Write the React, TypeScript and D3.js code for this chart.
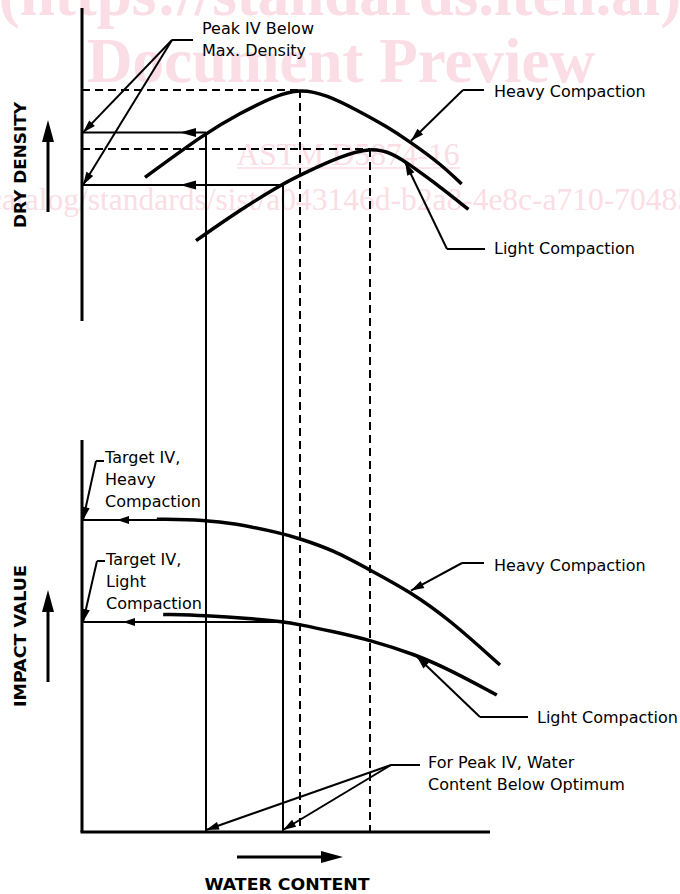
import React from "react";
import * as d3 from "d3";

const WIDTH = 680;
const HEIGHT = 894;

// ---- Data (relative units: water content on x, dry density / impact value on y) ----
const heavyDensityWater = [15.75, 31, 39.5, 47.75, 54.5, 61.2, 68.7, 76.2, 82, 89.5, 94.9];
const heavyDensity = [35.9, 47.1, 51.9, 56.1, 58.1, 56.5, 52.75, 48.6, 44.8, 39.4, 34.25];

const lightDensityWater = [28.5, 39.5, 49.9, 56.2, 64.5, 72, 77.8, 82, 89.5, 96.6];
const lightDensity = [20.1, 27.75, 34.2, 37.3, 41.1, 43.4, 41.9, 39, 33.6, 27.9];

const heavyIVWater = [18.7, 31, 37.8, 49.9, 54.25, 62.8, 72, 82, 92, 104.5];
const heavyIV = [78.2, 78, 77.2, 74.7, 73.4, 70.5, 65.5, 60.1, 53, 41.75];

const lightIVWater = [20.3, 31, 42, 49.9, 54.25, 62.8, 72, 83.7, 92, 103.7];
const lightIV = [54.4, 54.1, 53.4, 52.6, 51.9, 50.1, 48, 44.25, 40.5, 34.25];

const compactions = ["Heavy Compaction", "Light Compaction"];
const optimumWater = [54.5, 72];
const maxDensity = [57.75, 43];
const peakIVWater = [31, 50.25];
const densityAtPeakIV = [47.1, 34];
const targetIV = [78, 52.5];

const xDomain = [0, 102];
const densityDomain = [0, 78.25];
const ivDomain = [0, 98];

const watermarkLines = [
  "(https://standards.iteh.ai)",
  "Document Preview",
  "ASTM D5874-16",
  "catalog/standards/sist/a043146d-b2a8-4e8c-a710-704853e5f7e1/astm-d5874-16",
];

// ---- helpers ----
function head(tx: number, ty: number, fx: number, fy: number, len = 13, hw = 4) {
  const dx = tx - fx;
  const dy = ty - fy;
  const L = Math.hypot(dx, dy);
  const ux = dx / L;
  const uy = dy / L;
  const bx = tx - ux * len;
  const by = ty - uy * len;
  return `M${tx},${ty}L${bx - uy * hw},${by + ux * hw}L${bx + uy * hw},${by - ux * hw}Z`;
}

const FONT = "'DejaVu Sans', Verdana, sans-serif";
const SERIF = "'Liberation Serif', 'Times New Roman', serif";
const WM = "#fadde5";

export default function App() {
  const x = d3.scaleLinear().domain(xDomain).range([82, 490]);
  const yD = d3.scaleLinear().domain(densityDomain).range([321, 8]);
  const yI = d3.scaleLinear().domain(ivDomain).range([832, 440]);

  const curve = d3.curveBasis;
  const lineD = d3
    .line<[number, number]>()
    .x((d) => x(d[0]))
    .y((d) => yD(d[1]))
    .curve(curve);
  const lineI = d3
    .line<[number, number]>()
    .x((d) => x(d[0]))
    .y((d) => yI(d[1]))
    .curve(curve);

  const zip = (a: number[], b: number[]) => a.map((v, i) => [v, b[i]] as [number, number]);
  const densityCurves = [zip(heavyDensityWater, heavyDensity), zip(lightDensityWater, lightDensity)];
  const ivCurves = [zip(heavyIVWater, heavyIV), zip(lightIVWater, lightIV)];

  const x0 = x(0);
  const yBottom = yI(0);

  const upperHeadX = [180, 180];
  const lowerHeadX = [117, 123];

  const leaders: { elbow: [number, number]; end: number; tips: [number, number][] }[] = [
    {
      elbow: [172, 40],
      end: 193,
      tips: densityAtPeakIV.map((v) => [x0 + 1, yD(v)] as [number, number]),
    },
    { elbow: [463, 90], end: 484, tips: [[x(heavyDensityWater[8]) + 1, yD(heavyDensity[8]) - 1]] },
    { elbow: [447, 249], end: 485, tips: [[x(lightDensityWater[6]) + 12, yD(40.2) + 2]] },
    { elbow: [462, 563], end: 484, tips: [[x(heavyIVWater[7]) + 1, yI(heavyIV[7]) - 1]] },
    { elbow: [480, 717], end: 528, tips: [[x(lightIVWater[7]), yI(lightIV[7]) + 1.5]] },
    { elbow: [96, 461], end: 104, tips: [[x0 + 1, yI(targetIV[0])]] },
    { elbow: [97, 561], end: 105, tips: [[x0 + 1, yI(targetIV[1])]] },
    {
      elbow: [391, 765],
      end: 420,
      tips: peakIVWater.map((w) => [x(w), yBottom - 2] as [number, number]),
    },
  ];

  const labels: { x: number; y: number; lines: string[] }[] = [
    { x: 202, y: 34, lines: ["Peak IV Below", "Max. Density"] },
    { x: 494, y: 97, lines: [compactions[0]] },
    { x: 494, y: 254, lines: [compactions[1]] },
    { x: 494, y: 571, lines: [compactions[0]] },
    { x: 537, y: 723, lines: [compactions[1]] },
    { x: 105, y: 463, lines: ["Target IV,", "Heavy", "Compaction"] },
    { x: 106, y: 565, lines: ["Target IV,", "Light", "Compaction"] },
    { x: 428, y: 768, lines: ["For Peak IV, Water", "Content Below Optimum"] },
  ];

  return (
    <svg
      width={WIDTH}
      height={HEIGHT}
      viewBox={`0 0 ${WIDTH} ${HEIGHT}`}
      style={{ position: "absolute", left: 0, top: 0, display: "block", background: "#fff" }}
    >
      <rect x={0} y={0} width={WIDTH} height={HEIGHT} fill="#fff" />
      {/* watermark */}
      <g fill={WM} fontFamily={SERIF}>
        <text x={340} y={15} fontSize={63} fontWeight="bold" textAnchor="middle">
          {watermarkLines[0]}
        </text>
        <text x={341} y={82} fontSize={63} fontWeight="bold" textAnchor="middle">
          {watermarkLines[1]}
        </text>
        <text x={348} y={165} fontSize={31.5} textAnchor="middle">
          {watermarkLines[2]}
        </text>
        <line x1={237} x2={460} y1={168} y2={168} stroke={WM} strokeWidth={1.5} />
        <text x={-12} y={210} fontSize={31.5}>
          {watermarkLines[3]}
        </text>
      </g>

      {/* axes */}
      <g stroke="#000" strokeWidth={3} fill="none">
        <line x1={x0} x2={x0} y1={yD(densityDomain[0])} y2={yD(densityDomain[1])} />
        <line x1={x0} x2={x0} y1={yI(ivDomain[0])} y2={yI(ivDomain[1])} />
        <line x1={x0 - 1.5} x2={x(xDomain[1])} y1={yBottom} y2={yBottom} />
      </g>

      {/* dashed optimum / max density guides */}
      <g stroke="#000" strokeWidth={2} strokeDasharray="8,5" fill="none">
        {optimumWater.map((w, i) => (
          <g key={i}>
            <line x1={x0} x2={x(w)} y1={yD(maxDensity[i])} y2={yD(maxDensity[i])} />
            <line x1={x(w)} x2={x(w)} y1={yD(maxDensity[i])} y2={yBottom} />
          </g>
        ))}
      </g>

      {/* solid peak-IV guides */}
      <g stroke="#000" strokeWidth={2} fill="none">
        {peakIVWater.map((w, i) => (
          <g key={i}>
            <line x1={x(w)} x2={x(w)} y1={yD(densityAtPeakIV[i])} y2={yBottom} />
            <line x1={x0} x2={x(w)} y1={yD(densityAtPeakIV[i])} y2={yD(densityAtPeakIV[i])} />
            <line x1={x0} x2={x(w)} y1={yI(targetIV[i])} y2={yI(targetIV[i])} />
          </g>
        ))}
      </g>
      <g fill="#000">
        {peakIVWater.map((w, i) => (
          <g key={i}>
            <path
              d={head(upperHeadX[i], yD(densityAtPeakIV[i]), x(w), yD(densityAtPeakIV[i]), 16, 4.5)}
            />
            <path d={head(lowerHeadX[i], yI(targetIV[i]), x(w), yI(targetIV[i]), 12, 4)} />
          </g>
        ))}
      </g>

      {/* curves */}
      <g stroke="#000" strokeWidth={3.5} fill="none" strokeLinecap="butt">
        {densityCurves.map((c, i) => (
          <path key={"d" + i} d={lineD(c) || ""} />
        ))}
        {ivCurves.map((c, i) => (
          <path key={"i" + i} d={lineI(c) || ""} />
        ))}
      </g>

      {/* leaders */}
      {leaders.map((l, i) => (
        <g key={i}>
          <line x1={l.elbow[0]} x2={l.end} y1={l.elbow[1]} y2={l.elbow[1]} stroke="#000" strokeWidth={2} />
          {l.tips.map((t, j) => (
            <g key={j}>
              <line x1={l.elbow[0]} y1={l.elbow[1]} x2={t[0]} y2={t[1]} stroke="#000" strokeWidth={2} />
              <path d={head(t[0], t[1], l.elbow[0], l.elbow[1], 13, 4)} fill="#000" />
            </g>
          ))}
        </g>
      ))}

      {/* labels */}
      <g fontFamily={FONT} fontSize={16} fill="#000">
        {labels.map((lb, i) => (
          <text key={i} x={lb.x} y={lb.y}>
            {lb.lines.map((s, j) => (
              <tspan key={j} x={lb.x} y={lb.y + j * 22}>
                {s}
              </tspan>
            ))}
          </text>
        ))}
      </g>

      {/* axis titles */}
      <g fontFamily={FONT} fontWeight="bold" fontSize={16} fill="#000">
        <text
          transform="translate(26,165) rotate(-90)"
          textAnchor="middle"
          textLength={126}
          lengthAdjust="spacingAndGlyphs"
        >
          DRY DENSITY
        </text>
        <text
          transform="translate(26,636) rotate(-90)"
          textAnchor="middle"
          textLength={142}
          lengthAdjust="spacingAndGlyphs"
        >
          IMPACT VALUE
        </text>
        <text x={287} y={890} textAnchor="middle" textLength={165} lengthAdjust="spacingAndGlyphs">
          WATER CONTENT
        </text>
      </g>

      {/* direction arrows */}
      <g stroke="#000" strokeWidth={3}>
        <line x1={48} x2={48} y1={212} y2={138} />
        <line x1={48} x2={48} y1={682} y2={608} />
        <line x1={237} x2={326} y1={857} y2={857} />
      </g>
      <g fill="#000">
        <path d={head(48, 120, 48, 212, 22, 6)} />
        <path d={head(48, 590, 48, 682, 22, 6)} />
        <path d={head(343, 857, 237, 857, 22, 6)} />
      </g>
    </svg>
  );
}
